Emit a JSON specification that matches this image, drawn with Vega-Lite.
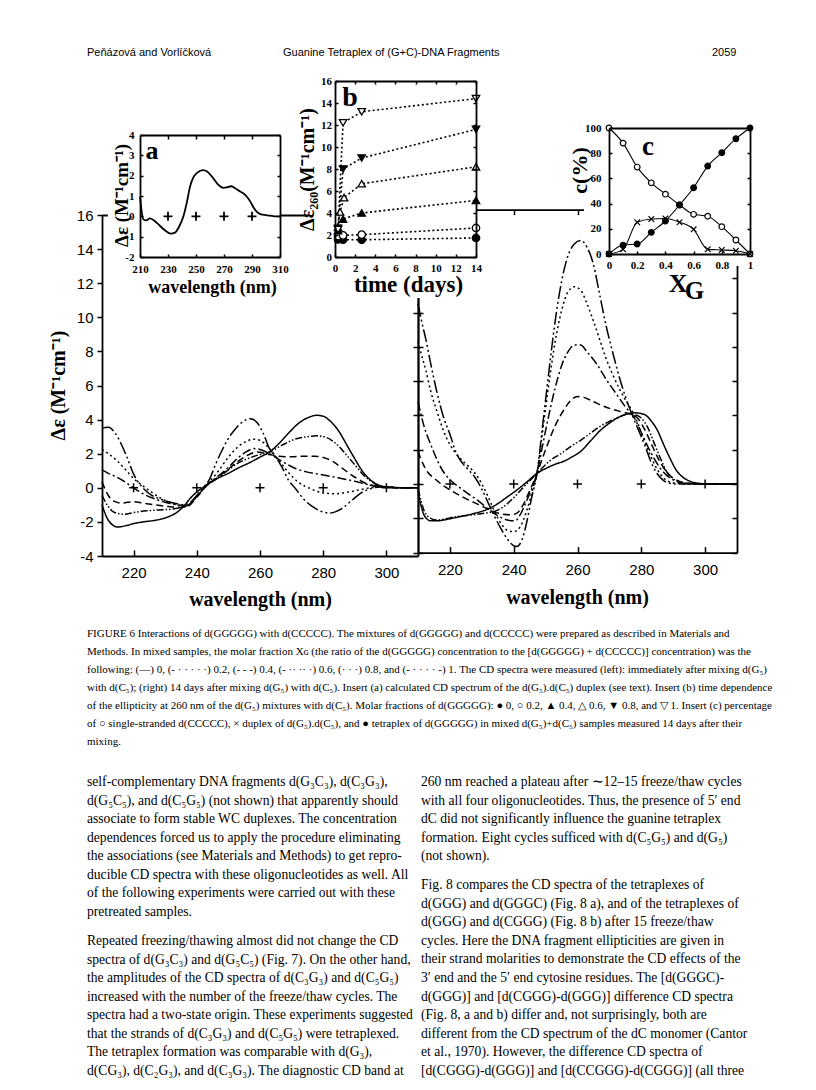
{
"$schema":"https://vega.github.io/schema/vega-lite/v6.json",
"width":816,"height":1090,"autosize":{"type":"none"},"padding":0,"background":"white",
"config":{"view":{"stroke":null},"axis":{"grid":false,"domainColor":"black","tickColor":"black","labelColor":"black","titleColor":"black","labelFlush":false,"labelOverlap":false}},
"datasets":{
"header":[{"part":1,"text":"Peňázová and Vorlíčková"},{"part":2,"text":"Guanine Tetraplex of (G+C)-DNA Fragments"},{"part":3,"text":"2059"}],
"caption":[
{"line":1,"text":"FIGURE 6   Interactions of d(GGGGG) with d(CCCCC). The mixtures of d(GGGGG) and d(CCCCC) were prepared as described in Materials and"},
{"line":2,"text":"Methods. In mixed samples, the molar fraction Xɢ (the ratio of the d(GGGGG) concentration to the [d(GGGGG) + d(CCCCC)] concentration) was the"},
{"line":3,"text":"following: (—) 0, (- · · · · ·) 0.2, (- - -) 0.4, (- ·· ·· ·) 0.6, (· · ·) 0.8, and (- · · · · -) 1. The CD spectra were measured (left): immediately after mixing d(G₅)"},
{"line":4,"text":"with d(C₅); (right) 14 days after mixing d(G₅) with d(C₅). Insert (a) calculated CD spectrum of the d(G₅).d(C₅) duplex (see text). Insert (b) time dependence"},
{"line":5,"text":"of the ellipticity at 260 nm of the d(G₅) mixtures with d(C₅). Molar fractions of d(GGGGG): ● 0, ○ 0.2, ▲ 0.4, △ 0.6, ▼ 0.8, and ▽ 1. Insert (c) percentage"},
{"line":6,"text":"of ○ single-stranded d(CCCCC), × duplex of d(G₅).d(C₅), and ● tetraplex of d(GGGGG) in mixed d(G₅)+d(C₅) samples measured 14 days after their"},
{"line":7,"text":"mixing."}],
"bodyL":[
{"line":1,"text":"self-complementary DNA fragments d(G₃C₃), d(C₃G₃),"},
{"line":2,"text":"d(G₅C₅), and d(C₅G₅) (not shown) that apparently should"},
{"line":3,"text":"associate to form stable WC duplexes. The concentration"},
{"line":4,"text":"dependences forced us to apply the procedure eliminating"},
{"line":5,"text":"the associations (see Materials and Methods) to get repro-"},
{"line":6,"text":"ducible CD spectra with these oligonucleotides as well. All"},
{"line":7,"text":"of the following experiments were carried out with these"},
{"line":8,"text":"pretreated samples."},
{"line":9,"text":"    Repeated freezing/thawing almost did not change the CD"},
{"line":10,"text":"spectra of d(G₃C₃) and d(G₅C₅) (Fig. 7). On the other hand,"},
{"line":11,"text":"the amplitudes of the CD spectra of d(C₃G₃) and d(C₅G₅)"},
{"line":12,"text":"increased with the number of the freeze/thaw cycles. The"},
{"line":13,"text":"spectra had a two-state origin. These experiments suggested"},
{"line":14,"text":"that the strands of d(C₃G₃) and d(C₅G₅) were tetraplexed."},
{"line":15,"text":"The tetraplex formation was comparable with d(G₃),"},
{"line":16,"text":"d(CG₃), d(C₂G₃), and d(C₃G₃). The diagnostic CD band at"}],
"bodyR":[
{"line":1,"text":"260 nm reached a plateau after ∼12–15 freeze/thaw cycles"},
{"line":2,"text":"with all four oligonucleotides. Thus, the presence of 5′ end"},
{"line":3,"text":"dC did not significantly influence the guanine tetraplex"},
{"line":4,"text":"formation. Eight cycles sufficed with d(C₅G₅) and d(G₅)"},
{"line":5,"text":"(not shown)."},
{"line":6,"text":"    Fig. 8 compares the CD spectra of the tetraplexes of"},
{"line":7,"text":"d(GGG) and d(GGGC) (Fig. 8 a), and of the tetraplexes of"},
{"line":8,"text":"d(GGG) and d(CGGG) (Fig. 8 b) after 15 freeze/thaw"},
{"line":9,"text":"cycles. Here the DNA fragment ellipticities are given in"},
{"line":10,"text":"their strand molarities to demonstrate the CD effects of the"},
{"line":11,"text":"3′ end and the 5′ end cytosine residues. The [d(GGGC)-"},
{"line":12,"text":"d(GGG)] and [d(CGGG)-d(GGG)] difference CD spectra"},
{"line":13,"text":"(Fig. 8, a and b) differ and, not surprisingly, both are"},
{"line":14,"text":"different from the CD spectrum of the dC monomer (Cantor"},
{"line":15,"text":"et al., 1970). However, the difference CD spectra of"},
{"line":16,"text":"[d(CGGG)-d(GGG)] and [d(CCGGG)-d(CGGG)] (all three"}],
"plusMain":[{"wl":220,"de":0},{"wl":240,"de":0},{"wl":260,"de":0},{"wl":280,"de":0},{"wl":300,"de":0}],
"plusA":[{"wl":230,"de":0},{"wl":250,"de":0},{"wl":270,"de":0},{"wl":290,"de":0}],
"specA":[{"wl":210,"de":0.97},{"wl":212.4,"de":-0.15},{"wl":214.5,"de":-0.2},{"wl":217,"de":-0.1},{"wl":220,"de":-0.2},{"wl":224,"de":-0.45},{"wl":228,"de":-0.7},{"wl":232,"de":-0.85},{"wl":235,"de":-0.8},{"wl":238,"de":-0.5},{"wl":241,"de":0.0},{"wl":243.5,"de":0.7},{"wl":245.7,"de":1.45},{"wl":248,"de":1.9},{"wl":251,"de":2.15},{"wl":255,"de":2.27},{"wl":258,"de":2.2},{"wl":262,"de":1.9},{"wl":266,"de":1.55},{"wl":269.5,"de":1.4},{"wl":272,"de":1.42},{"wl":275,"de":1.48},{"wl":278,"de":1.38},{"wl":281.5,"de":1.22},{"wl":284,"de":1.12},{"wl":286.5,"de":0.95},{"wl":289,"de":0.7},{"wl":291,"de":0.45},{"wl":293.5,"de":0.22},{"wl":296,"de":0.11},{"wl":300,"de":0.06},{"wl":303,"de":0.03},{"wl":306,"de":0.0},{"wl":310,"de":0.0}],
"specL":[
{"xg":"0","wl":210,"de":-1.0},{"xg":"0","wl":212,"de":-1.9},{"xg":"0","wl":215,"de":-2.3},{"xg":"0","wl":218,"de":-2.2},{"xg":"0","wl":220,"de":-2.1},{"xg":"0","wl":223,"de":-2.0},{"xg":"0","wl":227,"de":-1.9},{"xg":"0","wl":231,"de":-1.7},{"xg":"0","wl":234,"de":-1.4},{"xg":"0","wl":236,"de":-1.05},{"xg":"0","wl":238,"de":-0.6},{"xg":"0","wl":240,"de":-0.25},{"xg":"0","wl":243,"de":0.15},{"xg":"0","wl":246.5,"de":0.55},{"xg":"0","wl":250,"de":0.85},{"xg":"0","wl":253,"de":1.15},{"xg":"0","wl":257,"de":1.5},{"xg":"0","wl":260,"de":1.8},{"xg":"0","wl":263,"de":2.1},{"xg":"0","wl":266,"de":2.6},{"xg":"0","wl":269,"de":3.2},{"xg":"0","wl":272,"de":3.75},{"xg":"0","wl":275,"de":4.1},{"xg":"0","wl":278,"de":4.25},{"xg":"0","wl":280,"de":4.2},{"xg":"0","wl":282,"de":3.95},{"xg":"0","wl":285,"de":3.3},{"xg":"0","wl":287.5,"de":2.5},{"xg":"0","wl":290,"de":1.7},{"xg":"0","wl":292.5,"de":0.95},{"xg":"0","wl":295,"de":0.45},{"xg":"0","wl":297,"de":0.2},{"xg":"0","wl":300,"de":0.05},{"xg":"0","wl":305,"de":0},{"xg":"0","wl":310,"de":0},
{"xg":"0.2","wl":210,"de":-0.45},{"xg":"0.2","wl":212,"de":-1.1},{"xg":"0.2","wl":214,"de":-1.45},{"xg":"0.2","wl":217,"de":-1.55},{"xg":"0.2","wl":220,"de":-1.45},{"xg":"0.2","wl":224,"de":-1.35},{"xg":"0.2","wl":228,"de":-1.3},{"xg":"0.2","wl":232,"de":-1.25},{"xg":"0.2","wl":235,"de":-1.15},{"xg":"0.2","wl":237,"de":-1.05},{"xg":"0.2","wl":240,"de":-0.5},{"xg":"0.2","wl":243,"de":0.1},{"xg":"0.2","wl":246.5,"de":0.55},{"xg":"0.2","wl":250,"de":1.05},{"xg":"0.2","wl":253,"de":1.45},{"xg":"0.2","wl":256,"de":1.7},{"xg":"0.2","wl":259,"de":1.9},{"xg":"0.2","wl":263,"de":2.1},{"xg":"0.2","wl":267,"de":2.5},{"xg":"0.2","wl":271,"de":2.85},{"xg":"0.2","wl":275,"de":3.0},{"xg":"0.2","wl":278,"de":3.05},{"xg":"0.2","wl":281,"de":2.95},{"xg":"0.2","wl":284,"de":2.6},{"xg":"0.2","wl":287,"de":2.0},{"xg":"0.2","wl":290,"de":1.35},{"xg":"0.2","wl":292.5,"de":0.8},{"xg":"0.2","wl":295,"de":0.4},{"xg":"0.2","wl":298,"de":0.12},{"xg":"0.2","wl":300,"de":0.05},{"xg":"0.2","wl":305,"de":0},{"xg":"0.2","wl":310,"de":0},
{"xg":"0.4","wl":210,"de":0.35},{"xg":"0.4","wl":212,"de":-0.45},{"xg":"0.4","wl":214,"de":-0.8},{"xg":"0.4","wl":216,"de":-0.9},{"xg":"0.4","wl":218,"de":-0.85},{"xg":"0.4","wl":220,"de":-0.82},{"xg":"0.4","wl":223,"de":-0.9},{"xg":"0.4","wl":227,"de":-1.0},{"xg":"0.4","wl":231,"de":-1.1},{"xg":"0.4","wl":234,"de":-1.15},{"xg":"0.4","wl":237,"de":-1.1},{"xg":"0.4","wl":240,"de":-0.55},{"xg":"0.4","wl":243,"de":0.1},{"xg":"0.4","wl":246.5,"de":0.6},{"xg":"0.4","wl":250,"de":1.1},{"xg":"0.4","wl":253,"de":1.55},{"xg":"0.4","wl":256,"de":1.9},{"xg":"0.4","wl":259,"de":2.1},{"xg":"0.4","wl":263,"de":1.95},{"xg":"0.4","wl":266,"de":1.85},{"xg":"0.4","wl":270,"de":1.82},{"xg":"0.4","wl":274,"de":1.85},{"xg":"0.4","wl":277,"de":1.85},{"xg":"0.4","wl":280,"de":1.78},{"xg":"0.4","wl":283,"de":1.55},{"xg":"0.4","wl":286,"de":1.15},{"xg":"0.4","wl":289,"de":0.75},{"xg":"0.4","wl":292,"de":0.4},{"xg":"0.4","wl":295,"de":0.15},{"xg":"0.4","wl":298,"de":0.05},{"xg":"0.4","wl":305,"de":0},{"xg":"0.4","wl":310,"de":0},
{"xg":"0.6","wl":210,"de":1.05},{"xg":"0.6","wl":212,"de":0.85},{"xg":"0.6","wl":215,"de":0.6},{"xg":"0.6","wl":218,"de":0.25},{"xg":"0.6","wl":220,"de":0.0},{"xg":"0.6","wl":223,"de":-0.35},{"xg":"0.6","wl":226,"de":-0.6},{"xg":"0.6","wl":230,"de":-0.85},{"xg":"0.6","wl":234,"de":-1.0},{"xg":"0.6","wl":237,"de":-1.05},{"xg":"0.6","wl":240,"de":-0.5},{"xg":"0.6","wl":243,"de":0.15},{"xg":"0.6","wl":246.5,"de":0.65},{"xg":"0.6","wl":250,"de":1.2},{"xg":"0.6","wl":253,"de":1.75},{"xg":"0.6","wl":256,"de":2.15},{"xg":"0.6","wl":258,"de":2.3},{"xg":"0.6","wl":260,"de":2.25},{"xg":"0.6","wl":263,"de":2.0},{"xg":"0.6","wl":267,"de":1.55},{"xg":"0.6","wl":271,"de":1.15},{"xg":"0.6","wl":275,"de":0.92},{"xg":"0.6","wl":280,"de":0.75},{"xg":"0.6","wl":285,"de":0.58},{"xg":"0.6","wl":290,"de":0.38},{"xg":"0.6","wl":294,"de":0.2},{"xg":"0.6","wl":298,"de":0.08},{"xg":"0.6","wl":305,"de":0},{"xg":"0.6","wl":310,"de":0},
{"xg":"0.8","wl":210,"de":2.25},{"xg":"0.8","wl":212,"de":2.0},{"xg":"0.8","wl":215,"de":1.55},{"xg":"0.8","wl":218,"de":0.95},{"xg":"0.8","wl":220,"de":0.55},{"xg":"0.8","wl":223,"de":0.1},{"xg":"0.8","wl":226,"de":-0.3},{"xg":"0.8","wl":229,"de":-0.65},{"xg":"0.8","wl":232,"de":-0.9},{"xg":"0.8","wl":235,"de":-1.05},{"xg":"0.8","wl":237,"de":-1.05},{"xg":"0.8","wl":240,"de":-0.5},{"xg":"0.8","wl":243,"de":0.15},{"xg":"0.8","wl":246.5,"de":0.9},{"xg":"0.8","wl":250,"de":1.8},{"xg":"0.8","wl":253,"de":2.4},{"xg":"0.8","wl":256,"de":2.75},{"xg":"0.8","wl":258,"de":2.85},{"xg":"0.8","wl":260,"de":2.78},{"xg":"0.8","wl":263,"de":2.3},{"xg":"0.8","wl":266,"de":1.6},{"xg":"0.8","wl":269,"de":0.9},{"xg":"0.8","wl":272,"de":0.35},{"xg":"0.8","wl":276,"de":-0.05},{"xg":"0.8","wl":280,"de":-0.3},{"xg":"0.8","wl":284,"de":-0.35},{"xg":"0.8","wl":288,"de":-0.25},{"xg":"0.8","wl":292,"de":-0.1},{"xg":"0.8","wl":296,"de":0.02},{"xg":"0.8","wl":300,"de":0.04},{"xg":"0.8","wl":305,"de":0},{"xg":"0.8","wl":310,"de":0},
{"xg":"1","wl":210,"de":3.5},{"xg":"1","wl":212,"de":3.55},{"xg":"1","wl":214,"de":3.25},{"xg":"1","wl":216,"de":2.6},{"xg":"1","wl":218,"de":1.75},{"xg":"1","wl":220,"de":0.8},{"xg":"1","wl":222,"de":0.2},{"xg":"1","wl":225,"de":-0.35},{"xg":"1","wl":229,"de":-0.7},{"xg":"1","wl":233,"de":-0.9},{"xg":"1","wl":236,"de":-1.0},{"xg":"1","wl":238,"de":-0.85},{"xg":"1","wl":240,"de":-0.45},{"xg":"1","wl":242,"de":0.0},{"xg":"1","wl":244,"de":0.5},{"xg":"1","wl":246,"de":1.4},{"xg":"1","wl":248,"de":2.2},{"xg":"1","wl":250,"de":2.9},{"xg":"1","wl":252,"de":3.4},{"xg":"1","wl":254,"de":3.8},{"xg":"1","wl":257,"de":4.05},{"xg":"1","wl":259,"de":3.85},{"xg":"1","wl":261,"de":3.2},{"xg":"1","wl":263,"de":2.3},{"xg":"1","wl":265,"de":1.8},{"xg":"1","wl":267,"de":1.2},{"xg":"1","wl":269,"de":0.45},{"xg":"1","wl":271,"de":0.0},{"xg":"1","wl":274,"de":-0.7},{"xg":"1","wl":277,"de":-1.15},{"xg":"1","wl":280,"de":-1.42},{"xg":"1","wl":282,"de":-1.48},{"xg":"1","wl":284,"de":-1.4},{"xg":"1","wl":286,"de":-1.2},{"xg":"1","wl":289,"de":-0.75},{"xg":"1","wl":292,"de":-0.3},{"xg":"1","wl":295,"de":-0.05},{"xg":"1","wl":298,"de":0.05},{"xg":"1","wl":300,"de":0.05},{"xg":"1","wl":305,"de":0},{"xg":"1","wl":310,"de":0}],
"specR":[
{"xg":"0","wl":210,"de":-0.4},{"xg":"0","wl":211,"de":-1.3},{"xg":"0","wl":212,"de":-1.85},{"xg":"0","wl":214,"de":-2.15},{"xg":"0","wl":216,"de":-2.15},{"xg":"0","wl":218,"de":-2.1},{"xg":"0","wl":222,"de":-1.95},{"xg":"0","wl":227,"de":-1.75},{"xg":"0","wl":232,"de":-1.45},{"xg":"0","wl":235,"de":-1.15},{"xg":"0","wl":238,"de":-0.75},{"xg":"0","wl":241,"de":-0.35},{"xg":"0","wl":244,"de":0.1},{"xg":"0","wl":247.3,"de":0.62},{"xg":"0","wl":250,"de":0.9},{"xg":"0","wl":253,"de":1.15},{"xg":"0","wl":256,"de":1.35},{"xg":"0","wl":258,"de":1.55},{"xg":"0","wl":261,"de":1.9},{"xg":"0","wl":264,"de":2.5},{"xg":"0","wl":267,"de":3.1},{"xg":"0","wl":270,"de":3.55},{"xg":"0","wl":273,"de":3.9},{"xg":"0","wl":276,"de":4.1},{"xg":"0","wl":278,"de":4.15},{"xg":"0","wl":281,"de":4.05},{"xg":"0","wl":283,"de":3.7},{"xg":"0","wl":285,"de":3.15},{"xg":"0","wl":287,"de":2.3},{"xg":"0","wl":289,"de":1.5},{"xg":"0","wl":291,"de":0.8},{"xg":"0","wl":293,"de":0.4},{"xg":"0","wl":295,"de":0.18},{"xg":"0","wl":298,"de":0.04},{"xg":"0","wl":302,"de":0},{"xg":"0","wl":310,"de":0},
{"xg":"0.2","wl":210,"de":-0.3},{"xg":"0.2","wl":211,"de":-1.0},{"xg":"0.2","wl":212,"de":-1.6},{"xg":"0.2","wl":214,"de":-2.0},{"xg":"0.2","wl":216,"de":-2.1},{"xg":"0.2","wl":218,"de":-2.05},{"xg":"0.2","wl":222,"de":-1.9},{"xg":"0.2","wl":227,"de":-1.8},{"xg":"0.2","wl":231,"de":-1.7},{"xg":"0.2","wl":234,"de":-1.6},{"xg":"0.2","wl":237,"de":-1.3},{"xg":"0.2","wl":240,"de":-0.8},{"xg":"0.2","wl":243,"de":-0.2},{"xg":"0.2","wl":247.3,"de":0.62},{"xg":"0.2","wl":251,"de":1.3},{"xg":"0.2","wl":255,"de":1.8},{"xg":"0.2","wl":258,"de":2.2},{"xg":"0.2","wl":261,"de":2.55},{"xg":"0.2","wl":264,"de":2.95},{"xg":"0.2","wl":267,"de":3.35},{"xg":"0.2","wl":270,"de":3.65},{"xg":"0.2","wl":273,"de":3.9},{"xg":"0.2","wl":276,"de":4.1},{"xg":"0.2","wl":278,"de":4.05},{"xg":"0.2","wl":280,"de":3.85},{"xg":"0.2","wl":282,"de":3.3},{"xg":"0.2","wl":284,"de":2.4},{"xg":"0.2","wl":286,"de":1.5},{"xg":"0.2","wl":288,"de":0.7},{"xg":"0.2","wl":290,"de":0.3},{"xg":"0.2","wl":293,"de":0.08},{"xg":"0.2","wl":296,"de":0.02},{"xg":"0.2","wl":310,"de":0},
{"xg":"0.4","wl":210,"de":1.9},{"xg":"0.4","wl":211.5,"de":1.2},{"xg":"0.4","wl":213,"de":0.7},{"xg":"0.4","wl":215,"de":0.35},{"xg":"0.4","wl":218,"de":-0.1},{"xg":"0.4","wl":221,"de":-0.45},{"xg":"0.4","wl":225,"de":-0.85},{"xg":"0.4","wl":229,"de":-1.2},{"xg":"0.4","wl":233,"de":-1.55},{"xg":"0.4","wl":236,"de":-1.75},{"xg":"0.4","wl":239,"de":-1.8},{"xg":"0.4","wl":241,"de":-1.7},{"xg":"0.4","wl":243,"de":-1.2},{"xg":"0.4","wl":245,"de":-0.4},{"xg":"0.4","wl":247.3,"de":0.62},{"xg":"0.4","wl":250,"de":2.0},{"xg":"0.4","wl":253,"de":3.4},{"xg":"0.4","wl":256,"de":4.4},{"xg":"0.4","wl":258,"de":4.9},{"xg":"0.4","wl":260,"de":5.1},{"xg":"0.4","wl":262,"de":5.05},{"xg":"0.4","wl":265,"de":4.8},{"xg":"0.4","wl":268,"de":4.55},{"xg":"0.4","wl":271,"de":4.35},{"xg":"0.4","wl":274,"de":4.2},{"xg":"0.4","wl":277,"de":4.05},{"xg":"0.4","wl":279,"de":3.8},{"xg":"0.4","wl":281,"de":3.2},{"xg":"0.4","wl":283,"de":2.4},{"xg":"0.4","wl":285,"de":1.6},{"xg":"0.4","wl":287,"de":0.95},{"xg":"0.4","wl":289,"de":0.5},{"xg":"0.4","wl":292,"de":0.15},{"xg":"0.4","wl":295,"de":0.04},{"xg":"0.4","wl":300,"de":0},{"xg":"0.4","wl":310,"de":0},
{"xg":"0.6","wl":210,"de":4.8},{"xg":"0.6","wl":211,"de":4.0},{"xg":"0.6","wl":212,"de":3.3},{"xg":"0.6","wl":214,"de":2.3},{"xg":"0.6","wl":216,"de":1.4},{"xg":"0.6","wl":218,"de":0.7},{"xg":"0.6","wl":220,"de":0.25},{"xg":"0.6","wl":223,"de":-0.2},{"xg":"0.6","wl":226,"de":-0.6},{"xg":"0.6","wl":229,"de":-1.0},{"xg":"0.6","wl":232,"de":-1.45},{"xg":"0.6","wl":235,"de":-1.85},{"xg":"0.6","wl":238,"de":-2.1},{"xg":"0.6","wl":240.5,"de":-2.15},{"xg":"0.6","wl":242,"de":-1.8},{"xg":"0.6","wl":244,"de":-1.0},{"xg":"0.6","wl":246,"de":-0.1},{"xg":"0.6","wl":247.3,"de":0.62},{"xg":"0.6","wl":249,"de":2.2},{"xg":"0.6","wl":251,"de":4.0},{"xg":"0.6","wl":253,"de":5.6},{"xg":"0.6","wl":255,"de":6.9},{"xg":"0.6","wl":257,"de":7.7},{"xg":"0.6","wl":259,"de":8.1},{"xg":"0.6","wl":261,"de":8.1},{"xg":"0.6","wl":263,"de":7.7},{"xg":"0.6","wl":266,"de":7.0},{"xg":"0.6","wl":269,"de":6.1},{"xg":"0.6","wl":272,"de":5.3},{"xg":"0.6","wl":275,"de":4.5},{"xg":"0.6","wl":278,"de":3.8},{"xg":"0.6","wl":280,"de":3.0},{"xg":"0.6","wl":282,"de":2.2},{"xg":"0.6","wl":284,"de":1.5},{"xg":"0.6","wl":286,"de":0.9},{"xg":"0.6","wl":288,"de":0.5},{"xg":"0.6","wl":291,"de":0.15},{"xg":"0.6","wl":294,"de":0.03},{"xg":"0.6","wl":300,"de":0},{"xg":"0.6","wl":310,"de":0},
{"xg":"0.8","wl":210,"de":8.3},{"xg":"0.8","wl":211,"de":7.6},{"xg":"0.8","wl":212.5,"de":6.6},{"xg":"0.8","wl":214,"de":5.4},{"xg":"0.8","wl":216,"de":4.2},{"xg":"0.8","wl":218,"de":3.1},{"xg":"0.8","wl":220,"de":2.3},{"xg":"0.8","wl":222,"de":1.75},{"xg":"0.8","wl":224,"de":1.35},{"xg":"0.8","wl":226,"de":1.0},{"xg":"0.8","wl":228,"de":0.6},{"xg":"0.8","wl":230,"de":0.0},{"xg":"0.8","wl":232,"de":-0.75},{"xg":"0.8","wl":234,"de":-1.6},{"xg":"0.8","wl":236,"de":-2.3},{"xg":"0.8","wl":238,"de":-2.7},{"xg":"0.8","wl":240,"de":-2.78},{"xg":"0.8","wl":242,"de":-2.5},{"xg":"0.8","wl":244,"de":-1.6},{"xg":"0.8","wl":246,"de":-0.3},{"xg":"0.8","wl":247.3,"de":0.62},{"xg":"0.8","wl":249,"de":3.0},{"xg":"0.8","wl":251,"de":5.8},{"xg":"0.8","wl":253,"de":8.3},{"xg":"0.8","wl":255,"de":10.1},{"xg":"0.8","wl":257,"de":11.2},{"xg":"0.8","wl":259,"de":11.5},{"xg":"0.8","wl":261,"de":11.3},{"xg":"0.8","wl":263,"de":10.5},{"xg":"0.8","wl":265,"de":9.5},{"xg":"0.8","wl":267,"de":8.4},{"xg":"0.8","wl":269,"de":7.3},{"xg":"0.8","wl":271,"de":6.4},{"xg":"0.8","wl":273,"de":5.6},{"xg":"0.8","wl":275,"de":4.9},{"xg":"0.8","wl":277,"de":4.3},{"xg":"0.8","wl":279,"de":3.5},{"xg":"0.8","wl":281,"de":2.5},{"xg":"0.8","wl":283,"de":1.6},{"xg":"0.8","wl":285,"de":0.85},{"xg":"0.8","wl":287,"de":0.35},{"xg":"0.8","wl":289,"de":0.12},{"xg":"0.8","wl":292,"de":0.03},{"xg":"0.8","wl":300,"de":0},{"xg":"0.8","wl":310,"de":0},
{"xg":"1","wl":210,"de":10.5},{"xg":"1","wl":211,"de":9.6},{"xg":"1","wl":212.5,"de":8.4},{"xg":"1","wl":214,"de":7.0},{"xg":"1","wl":216,"de":5.3},{"xg":"1","wl":218,"de":3.9},{"xg":"1","wl":220,"de":2.9},{"xg":"1","wl":222,"de":1.8},{"xg":"1","wl":224,"de":1.2},{"xg":"1","wl":226,"de":0.8},{"xg":"1","wl":228,"de":0.35},{"xg":"1","wl":230,"de":-0.3},{"xg":"1","wl":232,"de":-1.1},{"xg":"1","wl":234,"de":-1.9},{"xg":"1","wl":236,"de":-2.6},{"xg":"1","wl":238,"de":-3.2},{"xg":"1","wl":240,"de":-3.6},{"xg":"1","wl":241,"de":-3.65},{"xg":"1","wl":242.5,"de":-3.3},{"xg":"1","wl":244,"de":-2.3},{"xg":"1","wl":245.5,"de":-0.9},{"xg":"1","wl":247.3,"de":0.62},{"xg":"1","wl":249,"de":3.3},{"xg":"1","wl":251,"de":6.5},{"xg":"1","wl":253,"de":9.5},{"xg":"1","wl":255,"de":11.8},{"xg":"1","wl":257,"de":13.3},{"xg":"1","wl":259,"de":14.0},{"xg":"1","wl":261,"de":14.2},{"xg":"1","wl":263,"de":13.8},{"xg":"1","wl":265,"de":12.8},{"xg":"1","wl":267,"de":11.0},{"xg":"1","wl":269,"de":9.2},{"xg":"1","wl":271,"de":7.7},{"xg":"1","wl":273,"de":6.3},{"xg":"1","wl":275,"de":5.1},{"xg":"1","wl":277,"de":4.1},{"xg":"1","wl":279,"de":3.2},{"xg":"1","wl":281,"de":2.3},{"xg":"1","wl":283,"de":1.3},{"xg":"1","wl":285,"de":0.6},{"xg":"1","wl":287,"de":0.2},{"xg":"1","wl":289,"de":0.04},{"xg":"1","wl":292,"de":0},{"xg":"1","wl":300,"de":0},{"xg":"1","wl":310,"de":0}],
"timeB":[
{"frac":"0","t":0.3,"v":1.6},{"frac":"0","t":0.8,"v":1.57},{"frac":"0","t":2.65,"v":1.57},{"frac":"0","t":14,"v":1.73},
{"frac":"0.2","t":0.3,"v":1.9},{"frac":"0.2","t":0.8,"v":1.97},{"frac":"0.2","t":2.65,"v":2.03},{"frac":"0.2","t":14,"v":2.64},
{"frac":"0.4","t":0.3,"v":2.4},{"frac":"0.4","t":0.8,"v":3.45},{"frac":"0.4","t":2.65,"v":4.0},{"frac":"0.4","t":14,"v":5.15},
{"frac":"0.6","t":0.3,"v":2.7},{"frac":"0.6","t":0.5,"v":4.1},{"frac":"0.6","t":0.9,"v":5.4},{"frac":"0.6","t":2.65,"v":6.66},{"frac":"0.6","t":14,"v":8.2},
{"frac":"0.8","t":0.3,"v":2.6},{"frac":"0.8","t":0.8,"v":8.0},{"frac":"0.8","t":2.65,"v":9.0},{"frac":"0.8","t":14,"v":11.6},
{"frac":"1","t":0.3,"v":2.5},{"frac":"1","t":0.8,"v":12.2},{"frac":"1","t":2.65,"v":13.2},{"frac":"1","t":14,"v":14.4}],
"fracC":[
{"sp":"ss","x":0,"c":100},{"sp":"ss","x":0.1,"c":88},{"sp":"ss","x":0.2,"c":69},{"sp":"ss","x":0.3,"c":56.5},{"sp":"ss","x":0.4,"c":47.5},{"sp":"ss","x":0.5,"c":39},{"sp":"ss","x":0.6,"c":31.5},{"sp":"ss","x":0.7,"c":30},{"sp":"ss","x":0.8,"c":21.7},{"sp":"ss","x":0.9,"c":11.1},{"sp":"ss","x":1,"c":0},
{"sp":"tetra","x":0,"c":0},{"sp":"tetra","x":0.1,"c":7.1},{"sp":"tetra","x":0.2,"c":7.9},{"sp":"tetra","x":0.3,"c":17.2},{"sp":"tetra","x":0.4,"c":26.2},{"sp":"tetra","x":0.5,"c":38.9},{"sp":"tetra","x":0.6,"c":52.6},{"sp":"tetra","x":0.7,"c":69.8},{"sp":"tetra","x":0.8,"c":80.4},{"sp":"tetra","x":0.9,"c":91.5},{"sp":"tetra","x":1,"c":100},
{"sp":"duplex","x":0,"c":0},{"sp":"duplex","x":0.1,"c":3.7},{"sp":"duplex","x":0.2,"c":25.2},{"sp":"duplex","x":0.3,"c":27.8},{"sp":"duplex","x":0.4,"c":28.2},{"sp":"duplex","x":0.5,"c":25.2},{"sp":"duplex","x":0.6,"c":19.6},{"sp":"duplex","x":0.7,"c":3.7},{"sp":"duplex","x":0.8,"c":3.2},{"sp":"duplex","x":0.9,"c":2.6},{"sp":"duplex","x":1,"c":0}]
},
"layer":[
{"data":{"name":"header"},"mark":{"type":"text","align":"left","baseline":"middle","font":"Liberation Sans, Arial, sans-serif","fontSize":11,"color":"black"},
 "encoding":{"x":{"field":"part","type":"quantitative","scale":{"domain":[1,2,3],"range":[87,283,712],"zero":false,"nice":false},"axis":null},
 "y":{"field":"part","type":"quantitative","scale":{"domain":[1,3],"range":[53,53],"zero":false,"nice":false},"axis":null},"text":{"field":"text"}}},
{"data":{"name":"caption"},"mark":{"type":"text","align":"left","baseline":"middle","font":"Liberation Serif","fontSize":11,"color":"black"},
 "encoding":{"x":{"field":"line","type":"quantitative","scale":{"domain":[1,7],"range":[87,87],"zero":false,"nice":false},"axis":null},
 "y":{"field":"line","type":"quantitative","scale":{"domain":[1,7],"range":[634,742],"zero":false,"nice":false},"axis":null},"text":{"field":"text"}}},
{"data":{"name":"bodyL"},"mark":{"type":"text","align":"left","baseline":"middle","font":"Liberation Serif","fontSize":13.6,"color":"black"},
 "encoding":{"x":{"field":"line","type":"quantitative","scale":{"domain":[1,16],"range":[87,87],"zero":false,"nice":false},"axis":null},
 "y":{"field":"line","type":"quantitative","scale":{"domain":[1,8,9,16],"range":[782,912,941,1071],"zero":false,"nice":false},"axis":null},"text":{"field":"text"}}},
{"data":{"name":"bodyR"},"mark":{"type":"text","align":"left","baseline":"middle","font":"Liberation Serif","fontSize":13.6,"color":"black"},
 "encoding":{"x":{"field":"line","type":"quantitative","scale":{"domain":[1,16],"range":[421,421],"zero":false,"nice":false},"axis":null},
 "y":{"field":"line","type":"quantitative","scale":{"domain":[1,5,6,16],"range":[782,856.4,885,1071],"zero":false,"nice":false},"axis":null},"text":{"field":"text"}}},
{"layer":[
 {"data":{"values":[{}]},"mark":{"type":"rect","fill":"white"},
  "encoding":{"x":{"datum":187,"type":"quantitative","scale":{"domain":[210,310],"range":[140,280],"nice":false,"zero":false},"axis":null},"x2":{"datum":310},
  "y":{"datum":4.74,"type":"quantitative","scale":{"domain":[-2,4],"range":[257,135],"nice":false,"zero":false},"axis":null},"y2":{"datum":-3.87}}},
 {"data":{"name":"specA"},"mark":{"type":"line","interpolate":"monotone","color":"black","strokeWidth":1.8},
  "encoding":{"x":{"field":"wl","type":"quantitative","scale":{"domain":[210,310],"range":[140,280],"nice":false,"zero":false},
    "axis":{"orient":"bottom","offset":-833,"zindex":1,"values":[210,230,250,270,290,310],"tickSize":-3,"tickWidth":1.5,"domainWidth":1.8,"labelPadding":9,"labelFont":"Liberation Serif","labelFontWeight":"bold","labelFontSize":11,"title":"wavelength (nm)","titleFont":"Liberation Serif","titleFontWeight":"bold","titleFontSize":18,"titleX":212,"titleY":30,"titleBaseline":"middle","titleAlign":"center"}},
   "y":{"field":"de","type":"quantitative","scale":{"domain":[-2,4],"range":[257,135],"nice":false,"zero":false},
    "axis":{"orient":"left","offset":-140,"zindex":1,"values":[-2,-1,0,1,2,3,4],"tickSize":-3,"tickWidth":1.5,"domainWidth":1.8,"labelPadding":9,"labelFont":"Liberation Serif","labelFontWeight":"bold","labelFontSize":11,"labelExpr":"datum.value < 0 ? '-' + abs(datum.value) : datum.label","title":"Δε (M⁻¹cm⁻¹)","titleFont":"Liberation Serif","titleFontWeight":"bold","titleFontSize":19,"titleX":-19,"titleY":195,"titleAngle":-90,"titleBaseline":"middle","titleAlign":"center"}}}},
 {"data":{"name":"plusA"},"mark":{"type":"point","shape":"M-1,0L1,0M0,-1L0,1","size":80,"stroke":"black","strokeWidth":1.8,"filled":false,"opacity":1},
  "encoding":{"x":{"field":"wl","type":"quantitative","scale":{"domain":[210,310],"range":[140,280],"nice":false,"zero":false},
    "axis":{"orient":"top","offset":-135,"zindex":1,"values":[230,250,270,290],"tickSize":-4,"tickWidth":1.5,"domainWidth":1.8,"labels":false,"title":null}},
   "y":{"field":"de","type":"quantitative","scale":{"domain":[-2,4],"range":[257,135],"nice":false,"zero":false},
    "axis":{"orient":"right","offset":-536,"zindex":1,"values":[-2,-1,0,1,2,3,4],"tickSize":-3,"tickWidth":1.5,"domainWidth":1.8,"labels":false,"title":null}}}},
 {"data":{"values":[{}]},"mark":{"type":"text","text":"a","font":"Liberation Serif","fontWeight":"bold","fontSize":26,"align":"center","baseline":"middle","color":"black"},
  "encoding":{"x":{"datum":218.6,"type":"quantitative","scale":{"domain":[210,310],"range":[140,280],"nice":false,"zero":false},"axis":null},
   "y":{"datum":3.2,"type":"quantitative","scale":{"domain":[-2,4],"range":[257,135],"nice":false,"zero":false},"axis":null}}}
 ],"resolve":{"axis":{"x":"independent","y":"independent"}}},
{"layer":[
 {"data":{"values":[{}]},"mark":{"type":"rect","fill":"white"},
  "encoding":{"x":{"datum":-2.98,"type":"quantitative","scale":{"domain":[0,14],"range":[335,476],"nice":false,"zero":false},"axis":null},"x2":{"datum":14},
  "y":{"datum":17,"type":"quantitative","scale":{"domain":[0,16],"range":[257,81],"nice":false,"zero":false},"axis":null},"y2":{"datum":-3.73}}},
 {"data":{"name":"timeB"},"mark":{"type":"line","color":"black","strokeWidth":1.6,"strokeDash":[2,2.5]},
  "encoding":{"x":{"field":"t","type":"quantitative","scale":{"domain":[0,14],"range":[335,476],"nice":false,"zero":false},
    "axis":{"orient":"bottom","offset":-833,"zindex":1,"values":[0,2,4,6,8,10,12,14],"tickSize":-3,"tickWidth":1.5,"domainWidth":1.8,"labelPadding":8,"labelFont":"Liberation Serif","labelFontWeight":"bold","labelFontSize":11,"title":"time (days)","titleFont":"Liberation Serif","titleFontWeight":"bold","titleFontSize":23,"titleX":408,"titleY":27,"titleBaseline":"middle","titleAlign":"center"}},
   "y":{"field":"v","type":"quantitative","scale":{"domain":[0,16],"range":[257,81],"nice":false,"zero":false},
    "axis":{"orient":"left","offset":-335,"zindex":1,"values":[0,2,4,6,8,10,12,14,16],"tickSize":-3,"tickWidth":1.5,"domainWidth":1.8,"labelPadding":6.5,"labelFont":"Liberation Serif","labelFontWeight":"bold","labelFontSize":11,"title":"Δε₂₆₀(M⁻¹cm⁻¹)","titleFont":"Liberation Serif","titleFontWeight":"bold","titleFontSize":20,"titleX":-28,"titleY":169,"titleAngle":-90,"titleBaseline":"middle","titleAlign":"center"}},
   "detail":{"field":"frac","type":"nominal"}}},
 {"data":{"name":"timeB"},"mark":{"type":"point","filled":true,"stroke":"black","strokeWidth":1.3,"size":55,"opacity":1},
  "encoding":{"x":{"field":"t","type":"quantitative","scale":{"domain":[0,14],"range":[335,476],"nice":false,"zero":false},
    "axis":{"orient":"top","offset":-81,"zindex":1,"values":[0,2,4,6,8,10,12,14],"tickSize":-3,"tickWidth":1.5,"domainWidth":1.8,"labels":false,"title":null}},
   "y":{"field":"v","type":"quantitative","scale":{"domain":[0,16],"range":[257,81],"nice":false,"zero":false},
    "axis":{"orient":"right","offset":-340,"zindex":1,"values":[0,2,4,6,8,10,12,14,16],"tickSize":-3,"tickWidth":1.5,"domainWidth":1.8,"labels":false,"title":null}},
   "shape":{"field":"frac","type":"nominal","scale":{"domain":["0","0.2","0.4","0.6","0.8","1"],"range":["circle","circle","triangle-up","triangle-up","triangle-down","triangle-down"]},"legend":null},
   "fill":{"field":"frac","type":"nominal","scale":{"domain":["0","0.2","0.4","0.6","0.8","1"],"range":["black","white","black","white","black","white"]},"legend":null}}},
 {"data":{"values":[{}]},"mark":{"type":"text","text":"b","font":"Liberation Serif","fontWeight":"bold","fontSize":28,"align":"center","baseline":"middle","color":"black"},
  "encoding":{"x":{"datum":1.5,"type":"quantitative","scale":{"domain":[0,14],"range":[335,476],"nice":false,"zero":false},"axis":null},
   "y":{"datum":14.5,"type":"quantitative","scale":{"domain":[0,16],"range":[257,81],"nice":false,"zero":false},"axis":null}}}
 ],"resolve":{"axis":{"x":"independent","y":"independent"}}},
{"layer":[
 {"data":{"values":[{}]},"mark":{"type":"rect","fill":"white"},
  "encoding":{"x":{"datum":-0.177,"type":"quantitative","scale":{"domain":[0,1],"range":[609,750],"nice":false,"zero":false},"axis":null},"x2":{"datum":1.078},
  "y":{"datum":122,"type":"quantitative","scale":{"domain":[0,100],"range":[254,128],"nice":false,"zero":false},"axis":null},"y2":{"datum":-9.5}}},
 {"data":{"name":"fracC"},"mark":{"type":"line","interpolate":"monotone","color":"black","strokeWidth":1.1},
  "encoding":{"x":{"field":"x","type":"quantitative","scale":{"domain":[0,1],"range":[609,750],"nice":false,"zero":false},
    "axis":{"orient":"bottom","offset":-836,"zindex":1,"values":[0,0.2,0.4,0.6,0.8,1],"format":"~g","tickSize":-3,"tickWidth":1.5,"domainWidth":1.8,"labelPadding":8,"labelFont":"Liberation Serif","labelFontWeight":"bold","labelFontSize":11,"title":null}},
   "y":{"field":"c","type":"quantitative","scale":{"domain":[0,100],"range":[254,128],"nice":false,"zero":false},
    "axis":{"orient":"left","offset":-609,"zindex":1,"values":[0,20,40,60,80,100],"tickSize":-3,"tickWidth":1.5,"domainWidth":1.8,"labelPadding":11,"labelFont":"Liberation Serif","labelFontWeight":"bold","labelFontSize":11,"title":"c(%)","titleFont":"Liberation Serif","titleFontWeight":"bold","titleFontSize":22,"titleX":-30,"titleY":170,"titleAngle":-90,"titleBaseline":"middle","titleAlign":"center"}},
   "detail":{"field":"sp","type":"nominal"}}},
 {"data":{"name":"fracC"},"mark":{"type":"point","filled":true,"stroke":"black","strokeWidth":1.2,"size":32,"opacity":1},
  "encoding":{"x":{"field":"x","type":"quantitative","scale":{"domain":[0,1],"range":[609,750],"nice":false,"zero":false},
    "axis":{"orient":"top","offset":-128,"zindex":1,"ticks":false,"domainWidth":1.8,"labels":false,"title":null}},
   "y":{"field":"c","type":"quantitative","scale":{"domain":[0,100],"range":[254,128],"nice":false,"zero":false},
    "axis":{"orient":"right","offset":-66,"zindex":1,"values":[20,40,60,80],"tickSize":-3,"tickWidth":1.5,"domainWidth":1.8,"labels":false,"title":null}},
   "shape":{"field":"sp","type":"nominal","scale":{"domain":["ss","tetra","duplex"],"range":["circle","circle","M-1,-1L1,1M1,-1L-1,1"]},"legend":null},
   "fill":{"field":"sp","type":"nominal","scale":{"domain":["ss","tetra","duplex"],"range":["white","black","white"]},"legend":null}}},
 {"data":{"values":[{"t":"c","x":0.277,"y":85,"s":"big"},{"t":"X","x":0.49,"y":-24,"s":"mid"},{"t":"G","x":0.607,"y":-29,"s":"small"}]},"mark":{"type":"text","font":"Liberation Serif","fontWeight":"bold","align":"center","baseline":"middle","color":"black"},
  "encoding":{"x":{"field":"x","type":"quantitative","scale":{"domain":[0,1],"range":[609,750],"nice":false,"zero":false},"axis":null},
   "y":{"field":"y","type":"quantitative","scale":{"domain":[0,100],"range":[254,128],"nice":false,"zero":false},"axis":null},
   "text":{"field":"t"},
   "size":{"field":"s","type":"nominal","scale":{"domain":["big","mid","small"],"range":[27,25,16]},"legend":null}}}
 ],"resolve":{"axis":{"x":"independent","y":"independent"}}},
{"layer":[
 {"data":{"name":"specL"},"mark":{"type":"line","interpolate":"monotone","color":"black","strokeWidth":1.5},
  "encoding":{"x":{"field":"wl","type":"quantitative","scale":{"domain":[210,310],"range":[102,418],"nice":false,"zero":false},
    "axis":{"orient":"bottom","offset":-534,"values":[220,240,260,280,300],"tickSize":-6,"tickWidth":1.5,"domainWidth":1.8,"labelPadding":15,"labelFont":"Liberation Sans","labelFontSize":15,"title":"wavelength (nm)","titleFont":"Liberation Serif","titleFontWeight":"bold","titleFontSize":20,"titleX":260,"titleY":43,"titleBaseline":"middle","titleAlign":"center"}},
   "y":{"field":"de","type":"quantitative","scale":{"domain":[-4,16],"range":[556,215],"nice":false,"zero":false},
    "axis":{"orient":"left","offset":-102,"values":[-4,-2,0,2,4,6,8,10,12,14,16],"tickSize":5,"tickWidth":1.5,"domainWidth":1.8,"labelPadding":4,"labelFont":"Liberation Sans","labelFontSize":15,"labelExpr":"datum.value < 0 ? '-' + abs(datum.value) : datum.label","title":"Δε (M⁻¹cm⁻¹)","titleFont":"Liberation Serif","titleFontWeight":"bold","titleFontSize":20,"titleX":-44,"titleY":385,"titleAngle":-90,"titleBaseline":"middle","titleAlign":"center"}},
   "strokeDash":{"field":"xg","type":"nominal","scale":{"domain":["0","0.2","0.4","0.6","0.8","1"],"range":[[1,0],[7,2,1.5,2,1.5,2],[7,4],[9,3,2,3],[2,3],[13,3,2,3,2,3]]},"legend":null}}},
 {"data":{"name":"plusMain"},"mark":{"type":"point","shape":"M-1,0L1,0M0,-1L0,1","size":80,"stroke":"black","strokeWidth":1.5,"filled":false,"opacity":1},
  "encoding":{"x":{"field":"wl","type":"quantitative","scale":{"domain":[210,310],"range":[102,418],"nice":false,"zero":false},
    "axis":{"orient":"top","offset":-215,"ticks":false,"labels":false,"domainWidth":1.8,"title":null}},
   "y":{"field":"de","type":"quantitative","scale":{"domain":[-4,16],"range":[556,215],"nice":false,"zero":false},
    "axis":{"orient":"right","offset":-398,"ticks":false,"labels":false,"domainWidth":1.8,"title":null}}}}
 ],"resolve":{"axis":{"x":"independent","y":"independent"}}},
{"layer":[
 {"data":{"name":"specR"},"mark":{"type":"line","interpolate":"monotone","color":"black","strokeWidth":1.5},
  "encoding":{"x":{"field":"wl","type":"quantitative","scale":{"domain":[210,310],"range":[418,737],"nice":false,"zero":false},
    "axis":{"orient":"bottom","offset":-537.4,"values":[220,240,260,280,300],"tickSize":-6,"tickWidth":1.5,"domainWidth":1.8,"labelPadding":15.5,"labelFont":"Liberation Sans","labelFontSize":15,"title":"wavelength (nm)","titleFont":"Liberation Serif","titleFontWeight":"bold","titleFontSize":20,"titleX":577,"titleY":45,"titleBaseline":"middle","titleAlign":"center"}},
   "y":{"field":"de","type":"quantitative","scale":{"domain":[-4,16],"range":[552.6,209.6],"nice":false,"zero":false},
    "axis":{"orient":"left","offset":-418,"values":[-4,-2,0,2,4,6,8,10,12,14,16],"tickSize":-5,"tickWidth":1.5,"domainWidth":1.8,"labels":false,"title":null}},
   "strokeDash":{"field":"xg","type":"nominal","scale":{"domain":["0","0.2","0.4","0.6","0.8","1"],"range":[[1,0],[7,2,1.5,2,1.5,2],[7,4],[9,3,2,3],[2,3],[13,3,2,3,2,3]]},"legend":null}}},
 {"data":{"name":"plusMain"},"mark":{"type":"point","shape":"M-1,0L1,0M0,-1L0,1","size":80,"stroke":"black","strokeWidth":1.5,"filled":false,"opacity":1},
  "encoding":{"x":{"field":"wl","type":"quantitative","scale":{"domain":[210,310],"range":[418,737],"nice":false,"zero":false},
    "axis":{"orient":"top","offset":-209.6,"values":[220,240,260,280,300],"tickSize":-5,"tickWidth":1.5,"domainWidth":1.8,"labels":false,"title":null}},
   "y":{"field":"de","type":"quantitative","scale":{"domain":[-4,16],"range":[552.6,209.6],"nice":false,"zero":false},
    "axis":{"orient":"right","offset":-79,"values":[-4,-2,0,2,4,6,8,10,12,14,16],"tickSize":-5,"tickWidth":1.5,"domainWidth":1.8,"labels":false,"title":null}}}},
 {"data":{"name":"plusMain"},"mark":{"type":"point","opacity":0},
  "encoding":{"x":{"field":"wl","type":"quantitative","scale":{"domain":[210,310],"range":[418,737],"nice":false,"zero":false},"axis":null},
   "y":{"field":"de","type":"quantitative","scale":{"domain":[-4,16],"range":[552.6,209.6],"nice":false,"zero":false},
    "axis":{"orient":"left","offset":-418,"values":[-4,-2,0,2,4,6,8,10,12,14,16],"tickSize":5,"tickWidth":1.5,"domain":false,"labels":false,"title":null}}}}
 ],"resolve":{"axis":{"x":"independent","y":"independent"}}}
],
"resolve":{"scale":{"x":"independent","y":"independent","shape":"independent","fill":"independent","strokeDash":"independent","size":"independent"},"axis":{"x":"independent","y":"independent"}}
}
